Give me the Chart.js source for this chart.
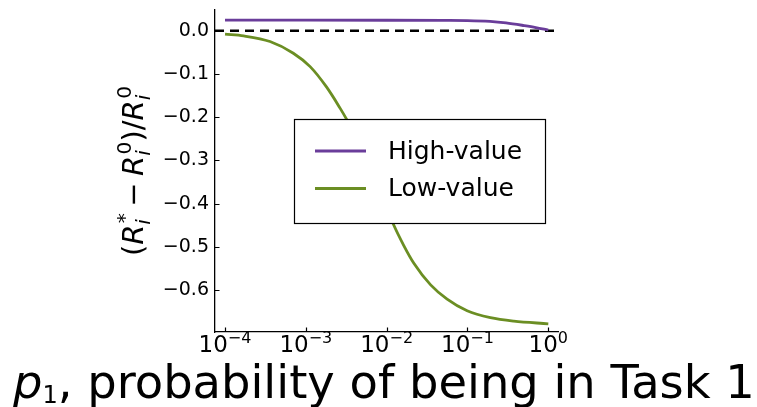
<!DOCTYPE html>
<html>
<head>
<meta charset="utf-8">
<script src="https://cdn.jsdelivr.net/npm/chart.js@4.4.1/dist/chart.umd.min.js"></script>
<style>
  html, body { margin: 0; padding: 0; background: #ffffff; }
  #wrap { width: 757px; height: 407px; }
</style>
</head>
<body>
<div id="wrap"><canvas id="chart" width="757" height="407"></canvas></div>
<script>
// p1 values (probability of being in Task 1) and relative change for each group
const highP = [1e-4, 1e-3, 1e-2, 0.05, 0.1, 0.19, 0.3, 0.5, 0.7, 1.0];
const highValues = [0.0245, 0.0245, 0.0243, 0.0239, 0.0235, 0.0215, 0.018, 0.012, 0.0075, 0.0015];

const lowP = [1e-4, 1.7e-4, 3.6e-4, 7e-4, 1.13e-3, 1.8e-3, 2.65e-3, 3.2e-3, 5e-3, 8e-3,
              1.2e-2, 1.63e-2, 2.17e-2, 3.5e-2, 5.6e-2, 9.9e-2, 1.92e-1, 3.74e-1, 1.0];
const lowValues = [-0.008, -0.012, -0.025, -0.052, -0.083, -0.130, -0.179, -0.205, -0.270, -0.364,
                   -0.446, -0.497, -0.538, -0.588, -0.621, -0.648, -0.664, -0.672, -0.678];

const seriesNames = ['High-value', 'Low-value'];
const seriesColors = ['#6a3d9a', '#6b8e23'];

const xTickExponents = [-4, -3, -2, -1, 0];
const yTickValues = [0.0, -0.1, -0.2, -0.3, -0.4, -0.5, -0.6];

const xMin = Math.pow(10, -4.124);
const xMax = Math.pow(10, 0.12);
const yMin = -0.697;
const yMax = 0.048;

const FONT = '"DejaVu Sans", "Liberation Sans", sans-serif';
const MINUS = '\u2212';

function toPoints(xs, ys) { return xs.map((x, i) => ({ x: x, y: ys[i] })); }

// Inward tick marks on the left and bottom spines, plus power-of-ten labels
const axisDecor = {
  id: 'axisDecor',
  afterDraw(chart, args, opts) {
    const ctx = chart.ctx;
    const { x, y } = chart.scales;
    const area = chart.chartArea;
    ctx.save();
    ctx.strokeStyle = '#000';
    ctx.lineWidth = 1.2;
    ctx.beginPath();
    x.ticks.forEach(t => {
      const px = Math.round(x.getPixelForValue(t.value)) + 0.5;
      ctx.moveTo(px, area.bottom);
      ctx.lineTo(px, area.bottom - 4.5);
    });
    y.ticks.forEach(t => {
      const py = Math.round(y.getPixelForValue(t.value)) + 0.5;
      ctx.moveTo(area.left, py);
      ctx.lineTo(area.left + 4.5, py);
    });
    ctx.stroke();

    // x tick labels: base 10 with a raised exponent
    ctx.fillStyle = '#000';
    ctx.textAlign = 'left';
    ctx.textBaseline = 'alphabetic';
    const baseFont = opts.baseSize + 'px ' + FONT;
    const expFont = opts.expSize + 'px ' + FONT;
    x.ticks.forEach(t => {
      const e = Math.round(Math.log10(t.value));
      const expText = (e < 0 ? MINUS : '') + Math.abs(e);
      ctx.font = baseFont;
      const w1 = ctx.measureText('10').width;
      ctx.font = expFont;
      const w2 = ctx.measureText(expText).width;
      const left = x.getPixelForValue(t.value) - (w1 + w2) / 2;
      const base = area.bottom + opts.baseOffset;
      ctx.font = baseFont;
      ctx.fillText('10', left, base);
      ctx.font = expFont;
      ctx.fillText(expText, left + w1, base - opts.expRaise);
    });
    ctx.restore();
  }
};

// Boxed legend placed inside the plot
const boxLegend = {
  id: 'boxLegend',
  afterDatasetsDraw(chart, args, opts) {
    const ctx = chart.ctx;
    ctx.save();
    ctx.fillStyle = '#fff';
    ctx.fillRect(opts.left, opts.top, opts.width, opts.height);
    ctx.strokeStyle = '#000';
    ctx.lineWidth = 1.2;
    ctx.strokeRect(opts.left + 0.5, opts.top + 0.5, opts.width, opts.height);
    ctx.font = opts.fontSize + 'px ' + FONT;
    ctx.textBaseline = 'middle';
    ctx.textAlign = 'left';
    const items = chart.data.datasets.filter(d => d.showInLegend);
    items.forEach((d, i) => {
      const ly = opts.top + opts.firstRow + i * opts.rowGap;
      ctx.strokeStyle = d.borderColor;
      ctx.lineWidth = d.borderWidth;
      ctx.beginPath();
      ctx.moveTo(opts.left + opts.lineStart, ly);
      ctx.lineTo(opts.left + opts.lineStart + opts.lineLength, ly);
      ctx.stroke();
      ctx.fillStyle = '#000';
      ctx.fillText(d.label, opts.left + opts.textStart, ly + 1);
    });
    ctx.restore();
  }
};

// Axis titles with math-style italics, subscripts and superscripts
function setFont(ctx, item, size) {
  ctx.font = (item.italic ? 'italic ' : '') + (size * (item.scale || 1)) + 'px ' + FONT;
}
function runAdvance(ctx, r, size) {
  if (r.stack) {
    let m = 0;
    r.stack.forEach(s => {
      setFont(ctx, s, size);
      m = Math.max(m, ctx.measureText(s.text).width + (s.dx || 0) * size);
    });
    return m + (r.gap || 0) * size;
  }
  setFont(ctx, r, size);
  return ctx.measureText(r.text).width + (r.gap || 0) * size;
}
function drawRuns(ctx, runs, x0, baseline, size) {
  let x = x0;
  runs.forEach(r => {
    if (r.stack) {
      r.stack.forEach(s => {
        setFont(ctx, s, size);
        ctx.fillText(s.text, x + (s.dx || 0) * size, baseline + s.dy * size);
      });
    } else {
      setFont(ctx, r, size);
      ctx.fillText(r.text, x, baseline + (r.dy || 0) * size);
    }
    x += runAdvance(ctx, r, size);
  });
}
function runsWidth(ctx, runs, size) {
  return runs.reduce((w, r) => w + runAdvance(ctx, r, size), 0);
}

function scriptPair(sup) {
  return { stack: [
    { text: sup, scale: 0.7, dy: -0.42, dx: 0.05 },
    { text: 'i', italic: true, scale: 0.7, dy: 0.24 }
  ] };
}
const yTitleRuns = [
  { text: '(' },
  { text: 'R', italic: true },
  Object.assign(scriptPair('*'), { gap: 0.22 }),
  { text: MINUS, gap: 0.22 },
  { text: 'R', italic: true },
  scriptPair('0'),
  { text: ')/' },
  { text: 'R', italic: true },
  scriptPair('0')
];

const xTitleRuns = [
  { text: 'p', italic: true },
  { text: '1', scale: 0.52, dy: 0.11 },
  { text: ', probability of being in Task 1' }
];

const axisTitles = {
  id: 'axisTitles',
  afterDraw(chart, args, opts) {
    const ctx = chart.ctx;
    ctx.save();
    ctx.fillStyle = '#000';
    ctx.textAlign = 'left';
    ctx.textBaseline = 'alphabetic';
    drawRuns(ctx, xTitleRuns, opts.xTitleLeft, opts.xTitleBaseline, opts.xTitleSize);

    const s = opts.yTitleSize;
    const w = runsWidth(ctx, yTitleRuns, s);
    const cy = (chart.chartArea.top + chart.chartArea.bottom) / 2;
    ctx.translate(opts.yTitleBaseline, cy);
    ctx.rotate(-Math.PI / 2);
    drawRuns(ctx, yTitleRuns, -w / 2, 0, s);
    ctx.restore();
  }
};

const ctxEl = document.getElementById('chart').getContext('2d');
new Chart(ctxEl, {
  type: 'line',
  data: {
    datasets: [
      {
        label: 'zero',
        data: [{ x: xMin, y: 0 }, { x: xMax, y: 0 }],
        borderColor: '#000',
        borderWidth: 2.5,
        borderDash: [9, 6],
        pointRadius: 0,
        showInLegend: false,
        order: 3
      },
      {
        label: seriesNames[0],
        data: toPoints(highP, highValues),
        borderColor: seriesColors[0],
        borderWidth: 2.8,
        pointRadius: 0,
        cubicInterpolationMode: 'monotone',
        showInLegend: true,
        order: 2
      },
      {
        label: seriesNames[1],
        data: toPoints(lowP, lowValues),
        borderColor: seriesColors[1],
        borderWidth: 2.8,
        pointRadius: 0,
        cubicInterpolationMode: 'monotone',
        showInLegend: true,
        order: 1
      }
    ]
  },
  options: {
    responsive: false,
    animation: false,
    devicePixelRatio: 1,
    layout: { padding: { left: 0, top: 10, right: 199, bottom: 0 } },
    plugins: {
      legend: { display: false },
      tooltip: { enabled: false },
      boxLegend: {
        left: 294, top: 119, width: 251, height: 104,
        lineStart: 21, lineLength: 51, textStart: 94,
        firstRow: 32, rowGap: 37.5, fontSize: 25
      },
      axisTitles: {
        xTitleLeft: 13, xTitleBaseline: 398, xTitleSize: 46.4,
        yTitleBaseline: 143, yTitleSize: 29
      },
      axisDecor: { baseSize: 23, expSize: 16, baseOffset: 20, expRaise: 9 }
    },
    scales: {
      x: {
        type: 'logarithmic',
        min: xMin,
        max: xMax,
        afterBuildTicks: (scale) => { scale.ticks = xTickExponents.map(e => ({ value: Math.pow(10, e) })); },
        afterFit: (scale) => {
          scale.height = 75;
          scale.paddingLeft = 0; scale.paddingRight = 0;
          scale.paddingTop = 0; scale.paddingBottom = 0;
        },
        grid: { display: true, drawOnChartArea: false, drawTicks: false },
        border: { display: true, color: '#000', width: 1.3 },
        ticks: { display: false }
      },
      y: {
        type: 'linear',
        min: yMin,
        max: yMax,
        afterBuildTicks: (scale) => { scale.ticks = yTickValues.map(v => ({ value: v })); },
        afterFit: (scale) => {
          scale.width = 215;
          scale.paddingTop = 0; scale.paddingBottom = 0;
          scale.paddingLeft = 0; scale.paddingRight = 0;
        },
        grid: { display: true, drawOnChartArea: false, drawTicks: false },
        border: { display: true, color: '#000', width: 1.3 },
        ticks: {
          autoSkip: false,
          padding: 6,
          color: '#000',
          font: { family: FONT, size: 19 },
          callback: (v) => (v < 0 ? MINUS : '') + Math.abs(v).toFixed(1)
        }
      }
    }
  },
  plugins: [axisDecor, boxLegend, axisTitles]
});
</script>
</body>
</html>
